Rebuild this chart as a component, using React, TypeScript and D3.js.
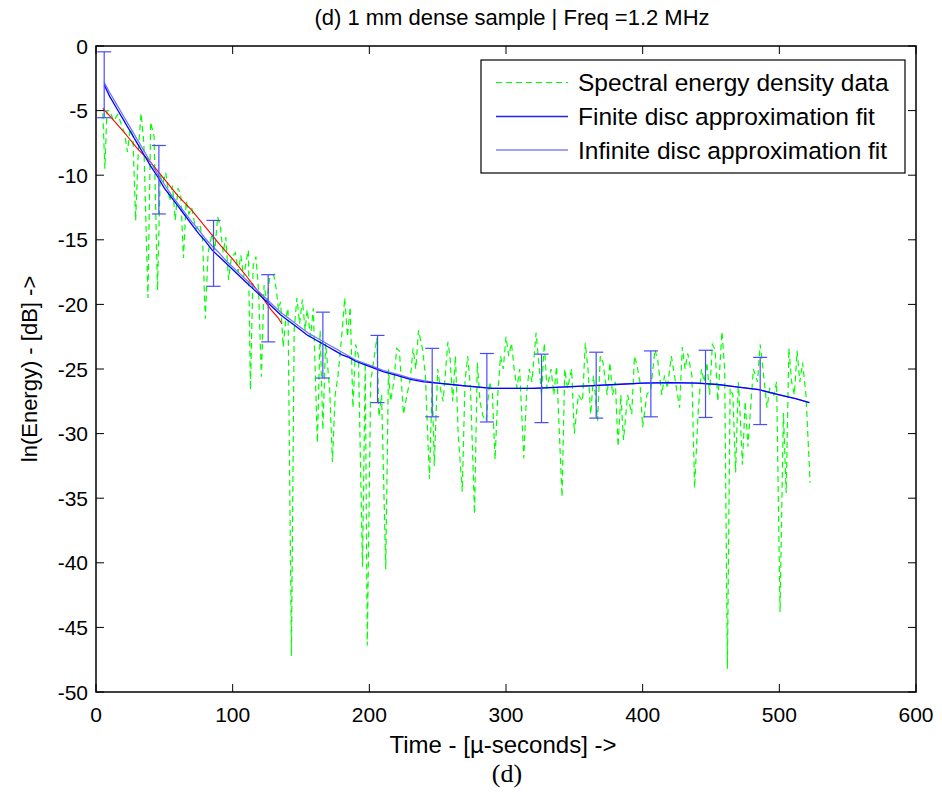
import React from 'react';
import * as d3 from 'd3';

// spectral energy density samples (time in µs, ln energy)
const specTime = [
  5, 6.5, 8, 10, 13, 16, 19, 21, 23, 25, 27, 29, 31, 33, 35, 38, 40, 42.5, 45, 47,
  49, 51, 54, 56, 58, 60, 62, 64, 66, 68, 70, 73, 76, 78, 80, 82, 85, 87, 89, 91,
  93, 95, 97, 99, 102, 104, 106, 108, 110, 111.5, 113, 115, 117, 119, 121, 123, 125, 127, 130, 132,
  133.5, 135, 137, 139, 140.5, 143, 145, 147, 149, 151, 153, 154.5, 157, 159, 162, 164, 166, 168, 171, 173,
  175, 177, 180, 182, 184, 186, 188, 190, 192, 195, 197, 198.5, 201, 203, 205.5, 207, 209, 212, 214, 215.5,
  218, 220, 222, 225, 227.5, 230, 232, 234, 236, 239, 241, 244, 246, 247.5, 250, 252, 254, 257.5, 259, 261,
  263, 265, 268, 270, 272, 274, 277, 279, 281, 283, 285.5, 288, 290, 292, 294, 296, 298, 300, 302, 304,
  306, 308, 310, 313, 315, 317, 319, 322, 324, 326, 328, 330, 333, 335, 337, 341, 343, 345, 348, 350,
  353, 356, 358, 360, 362, 364, 367, 369, 371, 374, 376, 378, 380, 382, 384, 386, 389, 392, 394, 396,
  398, 400, 403, 406, 409, 411, 414, 416, 418, 421, 424, 427, 429, 431, 433, 436, 438, 440.5, 443, 445,
  447, 449, 451, 453, 455, 458, 460, 462, 464, 466, 468, 470, 471.5, 473, 475, 477, 479, 481, 484, 486,
  488, 491, 493, 496, 498, 500.5, 503, 505, 507, 509, 511, 513, 515, 517, 519.5, 522.5
];
const specEnergy = [
  -5.2, -9.5, -5.0, -5.0, -5.8, -5.3, -6.2, -6.8, -8.2, -6.4, -7.0, -13.5, -8.0, -5.2, -7.5, -19.5, -5.9, -7.0, -18.9, -10.0,
  -10.6, -9.8, -12.0, -10.8, -13.5, -11.0, -11.5, -16.4, -12.0, -13.0, -12.5, -14.2, -13.8, -15.0, -21.1, -16.0, -14.5, -15.8, -13.2, -14.0,
  -16.0, -14.8, -18.1, -16.4, -16.0, -17.5, -16.2, -17.9, -16.6, -15.8, -26.6, -17.0, -16.3, -19.0, -25.6, -18.5, -19.8, -18.0, -17.7, -18.9,
  -20.4, -19.8, -23.3, -21.0, -20.3, -47.2, -22.0, -19.5, -21.5, -19.6, -22.0, -20.4, -22.5, -20.3, -30.7, -22.0, -29.7, -23.0, -26.6, -32.2,
  -27.0, -25.6, -22.2, -19.5, -22.5, -20.2, -28.0, -23.1, -24.0, -40.3, -24.5, -46.4, -26.0, -24.5, -22.6, -28.7, -27.0, -40.5, -25.0, -27.5,
  -26.0, -23.4, -23.6, -28.5, -27.0, -25.8, -23.4, -25.0, -22.0, -23.5, -25.5, -33.5, -26.0, -32.5, -25.0, -26.5, -27.5, -22.9, -24.0, -27.5,
  -24.0, -30.0, -34.5, -26.0, -24.0, -26.4, -36.2, -24.5, -27.5, -28.6, -29.0, -26.0, -26.9, -32.0, -27.0, -24.0, -25.0, -22.5, -24.0, -23.0,
  -25.0, -26.5, -25.0, -31.9, -27.0, -25.0, -26.0, -22.2, -24.5, -27.0, -23.0, -26.5, -25.0, -27.0, -24.8, -34.9, -25.0, -26.5, -25.0, -30.0,
  -27.0, -27.5, -23.0, -25.0, -28.5, -25.5, -29.0, -24.0, -24.5, -27.0, -24.5, -27.0, -26.0, -31.0, -27.0, -30.5, -27.0, -28.5, -24.0, -24.8,
  -26.0, -29.5, -27.0, -26.5, -23.5, -24.3, -27.0, -25.5, -26.5, -24.0, -26.0, -28.0, -23.3, -25.0, -23.8, -25.5, -34.2, -28.5, -25.0, -26.0,
  -24.5, -27.0, -23.1, -23.5, -27.5, -22.1, -25.0, -48.2, -26.5, -27.0, -33.0, -26.0, -29.0, -32.4, -27.5, -31.0, -28.0, -25.0, -26.0, -23.1,
  -25.0, -28.0, -26.5, -27.0, -26.0, -43.8, -28.4, -34.6, -23.4, -26.0, -27.0, -23.6, -26.0, -24.5, -27.0, -33.8
];

// fitted curves
const fitTime = [
  6, 10, 15, 20, 25, 30, 35, 40, 45, 50, 55, 60, 65, 70, 75, 80, 85, 90, 95, 100,
  105, 110, 115, 120, 125, 130, 135, 140, 145, 150, 155, 160, 165, 170, 175, 180, 185, 190, 195, 200,
  210, 220, 230, 240, 250, 260, 270, 280, 290, 300, 320, 340, 360, 380, 400, 420, 440, 455, 470, 485,
  500, 512, 522
];
const finiteFit = [
  -3.0, -3.9, -4.8, -5.7, -6.6, -7.5, -8.4, -9.3, -10.1, -11.0, -11.7, -12.4, -13.1, -13.8, -14.5, -15.1, -15.8, -16.3, -16.8, -17.3,
  -17.8, -18.3, -18.8, -19.3, -19.8, -20.3, -20.8, -21.2, -21.6, -22.0, -22.4, -22.7, -23.0, -23.3, -23.6, -23.9, -24.1, -24.4, -24.6, -24.8,
  -25.2, -25.5, -25.8, -26.0, -26.1, -26.2, -26.3, -26.4, -26.5, -26.5, -26.5, -26.4, -26.3, -26.2, -26.1, -26.05, -26.1, -26.2, -26.4, -26.6,
  -27.0, -27.3, -27.6
];
const infiniteFit = [
  -2.8, -3.6, -4.5, -5.4, -6.3, -7.2, -8.1, -9.0, -9.9, -10.7, -11.5, -12.2, -12.9, -13.6, -14.2, -14.9, -15.5, -16.0, -16.6, -17.1,
  -17.6, -18.1, -18.6, -19.1, -19.6, -20.1, -20.6, -21.0, -21.4, -21.8, -22.2, -22.5, -22.8, -23.1, -23.4, -23.7, -24.0, -24.3, -24.5, -24.7,
  -25.1, -25.4, -25.7, -25.9, -26.1, -26.2, -26.3, -26.4, -26.5, -26.5, -26.5, -26.4, -26.3, -26.2, -26.1, -26.05, -26.1, -26.2, -26.4, -26.6,
  -27.0, -27.3, -27.6
];
const redTime = [5, 10, 20, 30, 40, 50, 60, 70, 80, 90, 100, 110, 120, 128, 133, 136];
const redFit = [-4.8, -5.4, -6.6, -7.9, -9.0, -10.3, -11.6, -12.7, -14.0, -15.3, -16.5, -17.8, -19.2, -20.4, -21.0, -21.5];

// error bars
const errTime = [6, 46, 86, 126, 166, 206, 246, 286, 326, 366, 406, 446, 486];
const errCenter = [-3.0, -10.35, -16.05, -20.3, -23.15, -25.0, -26.05, -26.45, -26.5, -26.25, -26.15, -26.15, -26.7];
const errHalf = [2.55, 2.65, 2.55, 2.6, 2.55, 2.6, 2.65, 2.65, 2.65, 2.55, 2.55, 2.6, 2.6];

const xTicks = [0, 100, 200, 300, 400, 500, 600];
const yTicks = [0, -5, -10, -15, -20, -25, -30, -35, -40, -45, -50];
const legendLabels = ['Spectral energy density data', 'Finite disc approximation fit', 'Infinite disc approximation fit'];

const W = 942;
const H = 797;
const plot = { left: 96, right: 916, top: 46, bottom: 692 };
const font = '"Liberation Sans", Arial, Helvetica, sans-serif';

export default function App() {
  const x = d3.scaleLinear().domain([0, 600]).range([plot.left, plot.right]);
  const y = d3.scaleLinear().domain([-50, 0]).range([plot.bottom, plot.top]);

  const pathFrom = (ts: number[], vs: number[]) =>
    d3.line<number>().x((_, i) => x(ts[i])).y((v) => y(v))(vs) || '';

  const tickLen = 8;
  const cap = 7;

  const legend = { x: 481, y: 60, w: 424, h: 113 };
  const legendRows = [82.5, 116.5, 150];
  const legendStyles = [
    { stroke: '#00ff00', width: 1.2, dash: '6,4' },
    { stroke: '#2020ff', width: 1.3, dash: undefined },
    { stroke: '#8080ff', width: 1.3, dash: undefined },
  ];

  return (
    <svg width={W} height={H} style={{ position: 'absolute', left: 0, top: 0, background: '#fff' }} fontFamily={font}>
      <rect x={0} y={0} width={W} height={H} fill="#fff" />
      {/* title */}
      <text x={512} y={25} textAnchor="middle" fontSize={22}>
        (d) 1 mm dense sample | Freq =1.2 MHz
      </text>

      {/* data */}
      <path d={pathFrom(specTime, specEnergy)} fill="none" stroke="#00ff00" strokeWidth={1.2} strokeDasharray="6,4" />
      <path d={pathFrom(redTime, redFit)} fill="none" stroke="#ff0000" strokeWidth={1.1} />
      <path d={pathFrom(fitTime, infiniteFit)} fill="none" stroke="#7070ff" strokeWidth={1.2} />
      <path d={pathFrom(fitTime, finiteFit)} fill="none" stroke="#0000ff" strokeWidth={1.3} />

      {errTime.map((t, i) => {
        const cx = x(t);
        const y1 = y(errCenter[i] + errHalf[i]);
        const y2 = y(errCenter[i] - errHalf[i]);
        return (
          <g key={'e' + i} stroke="#4a4aff" strokeWidth={1.2}>
            <line x1={cx} x2={cx} y1={y1} y2={y2} />
            <line x1={cx - cap} x2={cx + cap} y1={y1} y2={y1} />
            <line x1={cx - cap} x2={cx + cap} y1={y2} y2={y2} />
          </g>
        );
      })}

      {/* axes box and ticks */}
      <rect x={plot.left} y={plot.top} width={plot.right - plot.left} height={plot.bottom - plot.top}
        fill="none" stroke="#000" strokeWidth={1.5} />
      {xTicks.map((t) => (
        <g key={'x' + t}>
          <line x1={x(t)} x2={x(t)} y1={plot.bottom} y2={plot.bottom - tickLen} stroke="#000" />
          <line x1={x(t)} x2={x(t)} y1={plot.top} y2={plot.top + tickLen} stroke="#000" />
          <text x={x(t)} y={722} textAnchor="middle" fontSize={21}>{t}</text>
        </g>
      ))}
      {yTicks.map((t) => (
        <g key={'y' + t}>
          <line x1={plot.left} x2={plot.left + tickLen} y1={y(t)} y2={y(t)} stroke="#000" />
          <line x1={plot.right} x2={plot.right - tickLen} y1={y(t)} y2={y(t)} stroke="#000" />
          <text x={88} y={y(t) + 7.5} textAnchor="end" fontSize={21}>{t}</text>
        </g>
      ))}

      {/* axis labels */}
      <text x={503} y={753} textAnchor="middle" fontSize={24}>
        Time - [µ-seconds] -&gt;
      </text>
      <text transform={`translate(37,${(plot.top + plot.bottom) / 2}) rotate(-90)`} textAnchor="middle" fontSize={22}>
        ln(Energy) - [dB] -&gt;
      </text>
      <text x={507} y={782} textAnchor="middle" fontSize={26}
        fontFamily='"Liberation Serif", "Times New Roman", serif'>(d)</text>

      {/* legend */}
      <rect x={legend.x} y={legend.y} width={legend.w} height={legend.h} fill="#fff" stroke="#000" strokeWidth={1.2} />
      {legendLabels.map((lab, i) => (
        <g key={lab}>
          <line x1={496} x2={568} y1={legendRows[i]} y2={legendRows[i]} stroke={legendStyles[i].stroke}
            strokeWidth={legendStyles[i].width} strokeDasharray={legendStyles[i].dash} />
          <text x={578} y={legendRows[i] + 8.5} fontSize={24.5}>{lab}</text>
        </g>
      ))}
    </svg>
  );
}
